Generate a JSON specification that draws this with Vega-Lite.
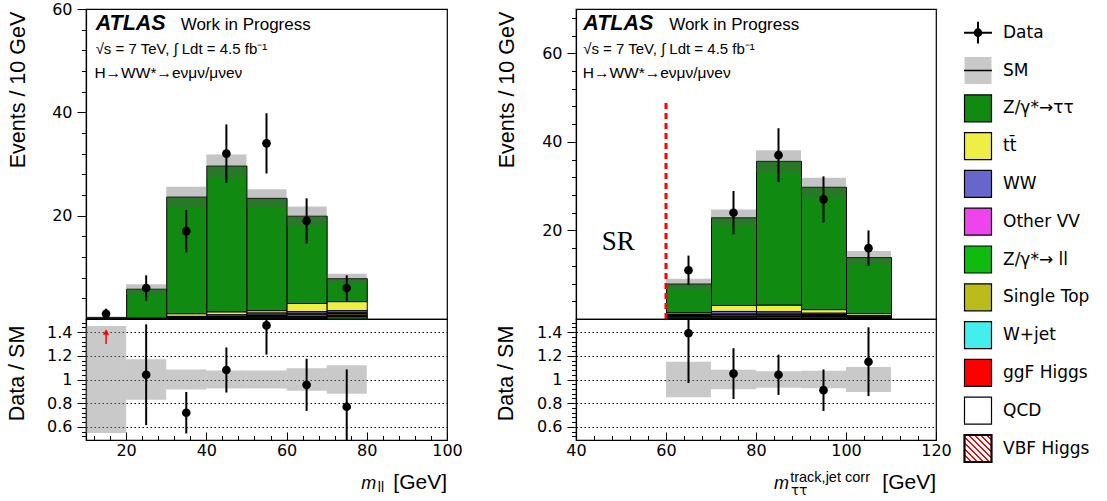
{
  "$schema": "https://vega.github.io/schema/vega-lite/v6.json",
  "background": "white",
  "padding": {"left": 5, "top": 0, "right": 0, "bottom": 0},
  "config": {
    "font": "DejaVu Sans",
    "view": {"stroke": "#000", "strokeWidth": 1.2},
    "axis": {"domainColor": "#000", "domainWidth": 1.2, "tickColor": "#000", "tickWidth": 1, "labelColor": "#000", "labelFont": "DejaVu Sans", "labelFontSize": 16, "labelFlush": false, "labelOverlap": false, "titleColor": "#000", "titleFont": "Liberation Sans", "titleFontSize": 21.5, "titleFontWeight": "normal", "grid": false}
  },
  "datasets": {
    "stack_mll": [
      {"lo": 10, "hi": 20, "proc": "Z/γ*→ττ", "n": 0.25, "k": 9},
      {"lo": 10, "hi": 20, "proc": "tt̄", "n": 0.05, "k": 8},
      {"lo": 20, "hi": 30, "proc": "Z/γ*→ττ", "n": 5.62, "k": 9},
      {"lo": 20, "hi": 30, "proc": "tt̄", "n": 0.08, "k": 8},
      {"lo": 20, "hi": 30, "proc": "WW", "n": 0.05, "k": 7},
      {"lo": 20, "hi": 30, "proc": "Z/γ*→ ll", "n": 0.02, "k": 0},
      {"lo": 30, "hi": 40, "proc": "Z/γ*→ττ", "n": 22.6, "k": 9},
      {"lo": 30, "hi": 40, "proc": "tt̄", "n": 0.5, "k": 8},
      {"lo": 30, "hi": 40, "proc": "WW", "n": 0.15, "k": 7},
      {"lo": 30, "hi": 40, "proc": "Other VV", "n": 0.05, "k": 6},
      {"lo": 30, "hi": 40, "proc": "Single Top", "n": 0.1, "k": 5},
      {"lo": 30, "hi": 40, "proc": "ggF Higgs", "n": 0.1, "k": 3},
      {"lo": 30, "hi": 40, "proc": "Z/γ*→ ll", "n": 0.1, "k": 0},
      {"lo": 40, "hi": 50, "proc": "Z/γ*→ττ", "n": 28.25, "k": 9},
      {"lo": 40, "hi": 50, "proc": "tt̄", "n": 0.55, "k": 8},
      {"lo": 40, "hi": 50, "proc": "WW", "n": 0.3, "k": 7},
      {"lo": 40, "hi": 50, "proc": "Other VV", "n": 0.1, "k": 6},
      {"lo": 40, "hi": 50, "proc": "Single Top", "n": 0.15, "k": 5},
      {"lo": 40, "hi": 50, "proc": "ggF Higgs", "n": 0.15, "k": 3},
      {"lo": 40, "hi": 50, "proc": "Z/γ*→ ll", "n": 0.1, "k": 0},
      {"lo": 50, "hi": 60, "proc": "Z/γ*→ττ", "n": 21.75, "k": 9},
      {"lo": 50, "hi": 60, "proc": "tt̄", "n": 0.45, "k": 8},
      {"lo": 50, "hi": 60, "proc": "WW", "n": 0.4, "k": 7},
      {"lo": 50, "hi": 60, "proc": "Other VV", "n": 0.15, "k": 6},
      {"lo": 50, "hi": 60, "proc": "Single Top", "n": 0.2, "k": 5},
      {"lo": 50, "hi": 60, "proc": "W+jet", "n": 0.05, "k": 4},
      {"lo": 50, "hi": 60, "proc": "ggF Higgs", "n": 0.2, "k": 3},
      {"lo": 50, "hi": 60, "proc": "Z/γ*→ ll", "n": 0.15, "k": 0},
      {"lo": 60, "hi": 70, "proc": "Z/γ*→ττ", "n": 16.9, "k": 9},
      {"lo": 60, "hi": 70, "proc": "tt̄", "n": 1.6, "k": 8},
      {"lo": 60, "hi": 70, "proc": "WW", "n": 0.4, "k": 7},
      {"lo": 60, "hi": 70, "proc": "Other VV", "n": 0.2, "k": 6},
      {"lo": 60, "hi": 70, "proc": "Single Top", "n": 0.3, "k": 5},
      {"lo": 60, "hi": 70, "proc": "W+jet", "n": 0.15, "k": 4},
      {"lo": 60, "hi": 70, "proc": "ggF Higgs", "n": 0.2, "k": 3},
      {"lo": 60, "hi": 70, "proc": "VBF Higgs", "n": 0.1, "k": 1},
      {"lo": 60, "hi": 70, "proc": "Z/γ*→ ll", "n": 0.05, "k": 0},
      {"lo": 70, "hi": 80, "proc": "Z/γ*→ττ", "n": 4.45, "k": 9},
      {"lo": 70, "hi": 80, "proc": "tt̄", "n": 1.75, "k": 8},
      {"lo": 70, "hi": 80, "proc": "WW", "n": 0.4, "k": 7},
      {"lo": 70, "hi": 80, "proc": "Other VV", "n": 0.15, "k": 6},
      {"lo": 70, "hi": 80, "proc": "Single Top", "n": 0.3, "k": 5},
      {"lo": 70, "hi": 80, "proc": "W+jet", "n": 0.15, "k": 4},
      {"lo": 70, "hi": 80, "proc": "ggF Higgs", "n": 0.15, "k": 3},
      {"lo": 70, "hi": 80, "proc": "VBF Higgs", "n": 0.05, "k": 1},
      {"lo": 70, "hi": 80, "proc": "Z/γ*→ ll", "n": 0.4, "k": 0}
    ],
    "stack_mtt": [
      {"lo": 60, "hi": 70, "proc": "Z/γ*→ττ", "n": 6.55, "k": 9},
      {"lo": 60, "hi": 70, "proc": "tt̄", "n": 0.35, "k": 8},
      {"lo": 60, "hi": 70, "proc": "WW", "n": 0.2, "k": 7},
      {"lo": 60, "hi": 70, "proc": "Other VV", "n": 0.1, "k": 6},
      {"lo": 60, "hi": 70, "proc": "Single Top", "n": 0.15, "k": 5},
      {"lo": 60, "hi": 70, "proc": "W+jet", "n": 0.1, "k": 4},
      {"lo": 60, "hi": 70, "proc": "ggF Higgs", "n": 0.3, "k": 3},
      {"lo": 60, "hi": 70, "proc": "Z/γ*→ ll", "n": 0.15, "k": 0},
      {"lo": 70, "hi": 80, "proc": "Z/γ*→ττ", "n": 19.8, "k": 9},
      {"lo": 70, "hi": 80, "proc": "tt̄", "n": 1.35, "k": 8},
      {"lo": 70, "hi": 80, "proc": "WW", "n": 0.6, "k": 7},
      {"lo": 70, "hi": 80, "proc": "Other VV", "n": 0.2, "k": 6},
      {"lo": 70, "hi": 80, "proc": "Single Top", "n": 0.3, "k": 5},
      {"lo": 70, "hi": 80, "proc": "W+jet", "n": 0.15, "k": 4},
      {"lo": 70, "hi": 80, "proc": "ggF Higgs", "n": 0.3, "k": 3},
      {"lo": 70, "hi": 80, "proc": "Z/γ*→ ll", "n": 0.15, "k": 0},
      {"lo": 80, "hi": 90, "proc": "Z/γ*→ττ", "n": 32.5, "k": 9},
      {"lo": 80, "hi": 90, "proc": "tt̄", "n": 1.5, "k": 8},
      {"lo": 80, "hi": 90, "proc": "WW", "n": 0.5, "k": 7},
      {"lo": 80, "hi": 90, "proc": "Other VV", "n": 0.2, "k": 6},
      {"lo": 80, "hi": 90, "proc": "Single Top", "n": 0.25, "k": 5},
      {"lo": 80, "hi": 90, "proc": "W+jet", "n": 0.1, "k": 4},
      {"lo": 80, "hi": 90, "proc": "ggF Higgs", "n": 0.4, "k": 3},
      {"lo": 80, "hi": 90, "proc": "Z/γ*→ ll", "n": 0.15, "k": 0},
      {"lo": 90, "hi": 100, "proc": "Z/γ*→ττ", "n": 27.65, "k": 9},
      {"lo": 90, "hi": 100, "proc": "tt̄", "n": 0.8, "k": 8},
      {"lo": 90, "hi": 100, "proc": "WW", "n": 0.3, "k": 7},
      {"lo": 90, "hi": 100, "proc": "Other VV", "n": 0.2, "k": 6},
      {"lo": 90, "hi": 100, "proc": "Single Top", "n": 0.25, "k": 5},
      {"lo": 90, "hi": 100, "proc": "W+jet", "n": 0.1, "k": 4},
      {"lo": 90, "hi": 100, "proc": "ggF Higgs", "n": 0.35, "k": 3},
      {"lo": 90, "hi": 100, "proc": "Z/γ*→ ll", "n": 0.1, "k": 0},
      {"lo": 100, "hi": 110, "proc": "Z/γ*→ττ", "n": 12.67, "k": 9},
      {"lo": 100, "hi": 110, "proc": "tt̄", "n": 0.45, "k": 8},
      {"lo": 100, "hi": 110, "proc": "WW", "n": 0.15, "k": 7},
      {"lo": 100, "hi": 110, "proc": "Other VV", "n": 0.1, "k": 6},
      {"lo": 100, "hi": 110, "proc": "Single Top", "n": 0.15, "k": 5},
      {"lo": 100, "hi": 110, "proc": "W+jet", "n": 0.05, "k": 4},
      {"lo": 100, "hi": 110, "proc": "ggF Higgs", "n": 0.2, "k": 3},
      {"lo": 100, "hi": 110, "proc": "Z/γ*→ ll", "n": 0.1, "k": 0}
    ],
    "sm_mll": [
      {"lo": 10, "hi": 20, "sm": 0.3, "blo": 0.165, "bhi": 0.435, "rlo": 0.55, "rhi": 1.45},
      {"lo": 20, "hi": 30, "sm": 5.77, "blo": 4.79, "bhi": 6.75, "rlo": 0.83, "rhi": 1.17},
      {"lo": 30, "hi": 40, "sm": 23.6, "blo": 21.59, "bhi": 25.61, "rlo": 0.915, "rhi": 1.085},
      {"lo": 40, "hi": 50, "sm": 29.6, "blo": 27.38, "bhi": 31.82, "rlo": 0.925, "rhi": 1.075},
      {"lo": 50, "hi": 60, "sm": 23.35, "blo": 21.6, "bhi": 25.1, "rlo": 0.925, "rhi": 1.075},
      {"lo": 60, "hi": 70, "sm": 19.9, "blo": 18.01, "bhi": 21.79, "rlo": 0.905, "rhi": 1.095},
      {"lo": 70, "hi": 80, "sm": 7.8, "blo": 6.86, "bhi": 8.74, "rlo": 0.88, "rhi": 1.12}
    ],
    "sm_mtt": [
      {"lo": 60, "hi": 70, "sm": 7.9, "blo": 6.72, "bhi": 9.09, "rlo": 0.85, "rhi": 1.15},
      {"lo": 70, "hi": 80, "sm": 22.85, "blo": 20.98, "bhi": 24.72, "rlo": 0.918, "rhi": 1.082},
      {"lo": 80, "hi": 90, "sm": 35.6, "blo": 33.1, "bhi": 38.1, "rlo": 0.93, "rhi": 1.07},
      {"lo": 90, "hi": 100, "sm": 29.75, "blo": 27.58, "bhi": 31.92, "rlo": 0.927, "rhi": 1.073},
      {"lo": 100, "hi": 110, "sm": 13.87, "blo": 12.41, "bhi": 15.33, "rlo": 0.895, "rhi": 1.105}
    ],
    "data_mll": [
      {"x": 15, "n": 1, "nlo": 0, "nhi": 2},
      {"x": 25, "n": 6, "nlo": 3.55, "nhi": 8.45, "r": 1.04, "rlo": 0.615, "rhi": 1.465},
      {"x": 35, "n": 17, "nlo": 12.88, "nhi": 21.12, "r": 0.72, "rlo": 0.545, "rhi": 0.895},
      {"x": 45, "n": 32, "nlo": 26.34, "nhi": 37.66, "r": 1.08, "rlo": 0.89, "rhi": 1.27},
      {"x": 55, "n": 34, "nlo": 28.17, "nhi": 39.83, "r": 1.456, "rlo": 1.21, "rhi": 1.71},
      {"x": 65, "n": 19, "nlo": 14.64, "nhi": 23.36, "r": 0.955, "rlo": 0.735, "rhi": 1.175},
      {"x": 75, "n": 6, "nlo": 3.55, "nhi": 8.45, "r": 0.77, "rlo": 0.455, "rhi": 1.085}
    ],
    "data_mtt": [
      {"x": 65, "n": 11, "nlo": 7.68, "nhi": 14.32, "r": 1.39, "rlo": 0.97, "rhi": 1.81},
      {"x": 75, "n": 24, "nlo": 19.1, "nhi": 28.9, "r": 1.05, "rlo": 0.836, "rhi": 1.264},
      {"x": 85, "n": 37, "nlo": 30.92, "nhi": 43.08, "r": 1.04, "rlo": 0.87, "rhi": 1.21},
      {"x": 95, "n": 27, "nlo": 21.8, "nhi": 32.2, "r": 0.91, "rlo": 0.735, "rhi": 1.085},
      {"x": 105, "n": 16, "nlo": 12, "nhi": 20, "r": 1.15, "rlo": 0.86, "rhi": 1.44}
    ],
    "leg": [
      {"i": 0, "label": "Data"}, {"i": 1, "label": "SM"}, {"i": 2, "label": "Z/γ*→ττ"}, {"i": 3, "label": "tt̄"},
      {"i": 4, "label": "WW"}, {"i": 5, "label": "Other VV"}, {"i": 6, "label": "Z/γ*→ ll"}, {"i": 7, "label": "Single Top"},
      {"i": 8, "label": "W+jet"}, {"i": 9, "label": "ggF Higgs"}, {"i": 10, "label": "QCD"}, {"i": 11, "label": "VBF Higgs"}
    ]
  },
  "concat": [
    {
      "width": 361, "height": 310,
      "resolve": {"axis": {"y": "independent"}},
      "layer": [
        {
          "data": {"name": "stack_mll"},
          "mark": {"type": "bar", "binSpacing": 0, "stroke": "#000", "strokeWidth": 1},
          "encoding": {
            "x": {"field": "lo", "type": "quantitative", "bin": {"binned": true}, "scale": {"domain": [10, 100], "nice": false}, "axis": null},
            "x2": {"field": "hi"},
            "y": {"field": "n", "type": "quantitative", "stack": "zero", "scale": {"domain": [0, 60], "nice": false}, "axis": {"orient": "left", "values": [20, 40, 60], "title": "Events / 10 GeV", "tickSize": 9, "labelPadding": 5, "titleX": -68, "titleY": 80.5, "titleAlign": "center", "titleBaseline": "middle"}},
            "color": {"field": "proc", "type": "nominal", "legend": null, "scale": {"domain": ["Z/γ*→ττ", "tt̄", "WW", "Other VV", "Z/γ*→ ll", "Single Top", "W+jet", "ggF Higgs", "QCD", "VBF Higgs"], "range": ["#108a10", "#eeee47", "#6666cc", "#ee44ee", "#10bb10", "#bbbb1c", "#44eeee", "#ff0000", "#ffffff", "#ff6666"]}},
            "order": {"field": "k", "type": "quantitative"}
          }
        },
        {
          "data": {"name": "sm_mll"},
          "mark": {"type": "rect", "fill": "#555", "opacity": 0.35},
          "encoding": {"x": {"field": "lo", "type": "quantitative", "axis": null}, "x2": {"field": "hi"}, "y": {"field": "blo", "type": "quantitative", "axis": {"orient": "left", "values": [4, 8, 12, 16, 24, 28, 32, 36, 44, 48, 52, 56], "tickCount": 40, "labels": false, "domain": false, "tickSize": 4.5, "title": null, "grid": false}}, "y2": {"field": "bhi"}}
        },
        {
          "data": {"name": "data_mll"},
          "mark": {"type": "rule", "strokeWidth": 2, "color": "#000"},
          "encoding": {"x": {"field": "x", "type": "quantitative", "axis": null}, "y": {"field": "nlo", "type": "quantitative", "axis": null}, "y2": {"field": "nhi"}}
        },
        {
          "data": {"name": "data_mll"},
          "mark": {"type": "point", "filled": true, "shape": "circle", "size": 75, "color": "#000", "opacity": 1},
          "encoding": {"x": {"field": "x", "type": "quantitative", "axis": null}, "y": {"field": "n", "type": "quantitative", "axis": null}}
        },
        {
          "data": {"values": [{}]},
          "mark": {"type": "text", "text": "ATLAS", "font": "Liberation Sans", "fontSize": 21.5, "fontWeight": "bold", "fontStyle": "italic", "align": "left", "baseline": "alphabetic", "color": "#000"},
          "encoding": {"x": {"datum": 12.4, "type": "quantitative", "axis": null}, "y": {"datum": 56, "type": "quantitative", "axis": null}}
        },
        {
          "data": {"values": [{}]},
          "mark": {"type": "text", "text": "Work in Progress", "font": "Liberation Sans", "fontSize": 17, "align": "left", "baseline": "alphabetic", "color": "#000"},
          "encoding": {"x": {"datum": 33.6, "type": "quantitative", "axis": null}, "y": {"datum": 56, "type": "quantitative", "axis": null}}
        },
        {
          "data": {"values": [{}]},
          "mark": {"type": "text", "text": "√s = 7 TeV, ∫ Ldt = 4.5 fb⁻¹", "font": "Liberation Sans", "fontSize": 15, "align": "left", "baseline": "alphabetic", "color": "#000"},
          "encoding": {"x": {"datum": 12.4, "type": "quantitative", "axis": null}, "y": {"datum": 51.35, "type": "quantitative", "axis": null}}
        },
        {
          "data": {"values": [{}]},
          "mark": {"type": "text", "text": "H→WW*→eνμν/μνeν", "font": "Liberation Sans", "fontSize": 15.5, "align": "left", "baseline": "alphabetic", "color": "#000"},
          "encoding": {"x": {"datum": 12.1, "type": "quantitative", "axis": null}, "y": {"datum": 46.6, "type": "quantitative", "axis": null}}
        }
      ]
    },
    {
      "width": 360, "height": 310,
      "resolve": {"axis": {"y": "independent"}},
      "layer": [
        {
          "data": {"name": "stack_mtt"},
          "mark": {"type": "bar", "binSpacing": 0, "stroke": "#000", "strokeWidth": 1},
          "encoding": {
            "x": {"field": "lo", "type": "quantitative", "bin": {"binned": true}, "scale": {"domain": [40, 120], "nice": false}, "axis": null},
            "x2": {"field": "hi"},
            "y": {"field": "n", "type": "quantitative", "stack": "zero", "scale": {"domain": [0, 70], "nice": false}, "axis": {"orient": "left", "values": [20, 40, 60], "title": "Events / 10 GeV", "tickSize": 9, "labelPadding": 5, "titleX": -69, "titleY": 80.5, "titleAlign": "center", "titleBaseline": "middle"}},
            "color": {"field": "proc", "type": "nominal", "legend": null, "scale": {"domain": ["Z/γ*→ττ", "tt̄", "WW", "Other VV", "Z/γ*→ ll", "Single Top", "W+jet", "ggF Higgs", "QCD", "VBF Higgs"], "range": ["#108a10", "#eeee47", "#6666cc", "#ee44ee", "#10bb10", "#bbbb1c", "#44eeee", "#ff0000", "#ffffff", "#ff6666"]}},
            "order": {"field": "k", "type": "quantitative"}
          }
        },
        {
          "data": {"name": "sm_mtt"},
          "mark": {"type": "rect", "fill": "#555", "opacity": 0.35},
          "encoding": {"x": {"field": "lo", "type": "quantitative", "axis": null}, "x2": {"field": "hi"}, "y": {"field": "blo", "type": "quantitative", "axis": {"orient": "left", "values": [4, 8, 12, 16, 24, 28, 32, 36, 44, 48, 52, 56, 64, 68], "tickCount": 40, "labels": false, "domain": false, "tickSize": 4.5, "title": null, "grid": false}}, "y2": {"field": "bhi"}}
        },
        {
          "data": {"values": [{}]},
          "mark": {"type": "rule", "color": "#ff0000", "strokeWidth": 3, "strokeDash": [6, 4]},
          "encoding": {"x": {"datum": 60, "type": "quantitative", "axis": null}, "y": {"datum": 0, "type": "quantitative", "axis": null}, "y2": {"datum": 49}}
        },
        {
          "data": {"name": "data_mtt"},
          "mark": {"type": "rule", "strokeWidth": 2, "color": "#000"},
          "encoding": {"x": {"field": "x", "type": "quantitative", "axis": null}, "y": {"field": "nlo", "type": "quantitative", "axis": null}, "y2": {"field": "nhi"}}
        },
        {
          "data": {"name": "data_mtt"},
          "mark": {"type": "point", "filled": true, "shape": "circle", "size": 75, "color": "#000", "opacity": 1},
          "encoding": {"x": {"field": "x", "type": "quantitative", "axis": null}, "y": {"field": "n", "type": "quantitative", "axis": null}}
        },
        {
          "data": {"values": [{}]},
          "mark": {"type": "text", "text": "ATLAS", "font": "Liberation Sans", "fontSize": 21.5, "fontWeight": "bold", "fontStyle": "italic", "align": "left", "baseline": "alphabetic", "color": "#000"},
          "encoding": {"x": {"datum": 41.6, "type": "quantitative", "axis": null}, "y": {"datum": 65.3, "type": "quantitative", "axis": null}}
        },
        {
          "data": {"values": [{}]},
          "mark": {"type": "text", "text": "Work in Progress", "font": "Liberation Sans", "fontSize": 17, "align": "left", "baseline": "alphabetic", "color": "#000"},
          "encoding": {"x": {"datum": 60.7, "type": "quantitative", "axis": null}, "y": {"datum": 65.3, "type": "quantitative", "axis": null}}
        },
        {
          "data": {"values": [{}]},
          "mark": {"type": "text", "text": "√s = 7 TeV, ∫ Ldt = 4.5 fb⁻¹", "font": "Liberation Sans", "fontSize": 15, "align": "left", "baseline": "alphabetic", "color": "#000"},
          "encoding": {"x": {"datum": 41.6, "type": "quantitative", "axis": null}, "y": {"datum": 59.9, "type": "quantitative", "axis": null}}
        },
        {
          "data": {"values": [{}]},
          "mark": {"type": "text", "text": "H→WW*→eνμν/μνeν", "font": "Liberation Sans", "fontSize": 15.5, "align": "left", "baseline": "alphabetic", "color": "#000"},
          "encoding": {"x": {"datum": 41.5, "type": "quantitative", "axis": null}, "y": {"datum": 54.4, "type": "quantitative", "axis": null}}
        },
        {
          "data": {"values": [{}]},
          "mark": {"type": "text", "text": "SR", "font": "Liberation Serif", "fontSize": 27, "align": "left", "baseline": "alphabetic", "color": "#000"},
          "encoding": {"x": {"datum": 45.7, "type": "quantitative", "axis": null}, "y": {"datum": 15.5, "type": "quantitative", "axis": null}}
        }
      ]
    },
    {
      "width": 30, "height": 310,
      "view": {"stroke": null},
      "data": {"name": "leg"},
      "layer": [
        {
          "transform": [{"filter": {"field": "label", "oneOf": ["Z/γ*→ττ", "tt̄", "WW", "Other VV", "Z/γ*→ ll", "Single Top", "W+jet", "ggF Higgs", "QCD"]}}],
          "mark": {"type": "point", "shape": "square", "size": 729, "filled": true, "stroke": "#000", "strokeWidth": 1.2, "opacity": 1},
          "encoding": {
            "x": {"datum": -87, "type": "quantitative", "scale": {"domain": [0, 30], "nice": false, "zero": false}, "axis": null},
            "y": {"field": "i", "type": "quantitative", "scale": {"domain": [-0.627, 7.574], "reverse": true, "nice": false, "zero": false}, "axis": null},
            "fill": {"field": "label", "type": "nominal", "legend": null, "scale": {"domain": ["Z/γ*→ττ", "tt̄", "WW", "Other VV", "Z/γ*→ ll", "Single Top", "W+jet", "ggF Higgs", "QCD", "VBF Higgs"], "range": ["#108a10", "#eeee47", "#6666cc", "#ee44ee", "#10bb10", "#bbbb1c", "#44eeee", "#ff0000", "#ffffff", "#ff6666"]}}
          }
        },
        {
          "transform": [{"filter": "datum.label == 'VBF Higgs'"}],
          "mark": {"type": "point", "shape": "square", "size": 729, "stroke": "#000", "strokeWidth": 2.2, "opacity": 1, "fill": {"gradient": "linear", "x1": 0, "y1": 1, "x2": 1, "y2": 0, "stops": [
            {"offset": 0, "color": "#ff0000"}, {"offset": 0.045, "color": "#ff0000"}, {"offset": 0.045, "color": "#ffffff"}, {"offset": 0.111, "color": "#ffffff"},
            {"offset": 0.111, "color": "#ff0000"}, {"offset": 0.156, "color": "#ff0000"}, {"offset": 0.156, "color": "#ffffff"}, {"offset": 0.222, "color": "#ffffff"},
            {"offset": 0.222, "color": "#ff0000"}, {"offset": 0.267, "color": "#ff0000"}, {"offset": 0.267, "color": "#ffffff"}, {"offset": 0.333, "color": "#ffffff"},
            {"offset": 0.333, "color": "#ff0000"}, {"offset": 0.378, "color": "#ff0000"}, {"offset": 0.378, "color": "#ffffff"}, {"offset": 0.444, "color": "#ffffff"},
            {"offset": 0.444, "color": "#ff0000"}, {"offset": 0.489, "color": "#ff0000"}, {"offset": 0.489, "color": "#ffffff"}, {"offset": 0.556, "color": "#ffffff"},
            {"offset": 0.556, "color": "#ff0000"}, {"offset": 0.601, "color": "#ff0000"}, {"offset": 0.601, "color": "#ffffff"}, {"offset": 0.667, "color": "#ffffff"},
            {"offset": 0.667, "color": "#ff0000"}, {"offset": 0.712, "color": "#ff0000"}, {"offset": 0.712, "color": "#ffffff"}, {"offset": 0.778, "color": "#ffffff"},
            {"offset": 0.778, "color": "#ff0000"}, {"offset": 0.823, "color": "#ff0000"}, {"offset": 0.823, "color": "#ffffff"}, {"offset": 0.889, "color": "#ffffff"},
            {"offset": 0.889, "color": "#ff0000"}, {"offset": 0.934, "color": "#ff0000"}, {"offset": 0.934, "color": "#ffffff"}, {"offset": 1, "color": "#ffffff"}
          ]}},
          "encoding": {"x": {"datum": -87, "type": "quantitative"}, "y": {"field": "i", "type": "quantitative"}}
        },
        {
          "transform": [{"filter": "datum.label == 'SM'"}],
          "mark": {"type": "point", "shape": "square", "size": 729, "filled": true, "color": "#888", "opacity": 0.45},
          "encoding": {"x": {"datum": -87, "type": "quantitative"}, "y": {"field": "i", "type": "quantitative"}}
        },
        {
          "transform": [{"filter": "datum.label == 'SM'"}],
          "mark": {"type": "rule", "color": "#000", "strokeWidth": 1.5},
          "encoding": {"x": {"datum": -101, "type": "quantitative"}, "x2": {"datum": -73}, "y": {"field": "i", "type": "quantitative"}}
        },
        {
          "transform": [{"filter": "datum.label == 'Data'"}],
          "mark": {"type": "point", "shape": "M-1,0L1,0M0,-0.78L0,0.78", "filled": false, "size": 784, "stroke": "#000", "strokeWidth": 2, "opacity": 1},
          "encoding": {"x": {"datum": -87, "type": "quantitative"}, "y": {"field": "i", "type": "quantitative"}}
        },
        {
          "transform": [{"filter": "datum.label == 'Data'"}],
          "mark": {"type": "point", "shape": "circle", "filled": true, "size": 75, "color": "#000", "opacity": 1},
          "encoding": {"x": {"datum": -87, "type": "quantitative"}, "y": {"field": "i", "type": "quantitative"}}
        },
        {
          "mark": {"type": "text", "font": "DejaVu Sans", "fontSize": 17, "align": "left", "baseline": "middle", "color": "#000"},
          "encoding": {"x": {"datum": -62, "type": "quantitative"}, "y": {"field": "i", "type": "quantitative"}, "text": {"field": "label"}}
        }
      ]
    },
    {
      "width": 361, "height": 121,
      "resolve": {"axis": {"x": "independent", "y": "independent"}},
      "layer": [
        {
          "data": {"name": "sm_mll"},
          "mark": {"type": "rect", "fill": "#888", "opacity": 0.45},
          "encoding": {
            "x": {"field": "lo", "type": "quantitative", "scale": {"domain": [10, 100], "nice": false}, "axis": {"orient": "bottom", "values": [20, 40, 60, 80, 100], "title": null, "tickSize": -8, "labelPadding": 10}},
            "x2": {"field": "hi"},
            "y": {"field": "rlo", "type": "quantitative", "scale": {"domain": [0.49, 1.51], "nice": false, "zero": false}, "axis": {"orient": "left", "values": [0.6, 0.8, 1, 1.2, 1.4], "tickCount": 10, "format": ".1~f", "title": "Data / SM", "tickSize": 9, "labelPadding": 5, "grid": true, "gridDash": [1.5, 2.5], "gridColor": "#000", "gridWidth": 1, "titleX": -68.5, "titleY": 54, "titleAlign": "center", "titleBaseline": "middle"}},
            "y2": {"field": "rhi"}
          }
        },
        {
          "mark": {"type": "rule", "color": "#ff0000", "strokeWidth": 1},
          "encoding": {"y": {"datum": 1, "type": "quantitative", "axis": {"orient": "left", "values": [0.52, 0.56, 0.64, 0.68, 0.72, 0.76, 0.84, 0.88, 0.92, 0.96, 1.04, 1.08, 1.12, 1.16, 1.24, 1.28, 1.32, 1.36, 1.44, 1.48], "tickCount": 40, "labels": false, "domain": false, "tickSize": 4.5, "title": null, "grid": false}}}
        },
        {
          "data": {"name": "data_mll"},
          "transform": [{"filter": "isValid(datum.r)"}],
          "mark": {"type": "rule", "strokeWidth": 2, "color": "#000", "clip": true},
          "encoding": {"x": {"field": "x", "type": "quantitative", "axis": {"orient": "bottom", "values": [12, 16, 24, 28, 32, 36, 44, 48, 52, 56, 64, 68, 72, 76, 84, 88, 92, 96], "tickCount": 40, "labels": false, "domain": false, "tickSize": -4.5, "title": null, "grid": false}}, "y": {"field": "rlo", "type": "quantitative", "axis": null}, "y2": {"field": "rhi"}}
        },
        {
          "data": {"name": "data_mll"},
          "transform": [{"filter": "isValid(datum.r)"}],
          "mark": {"type": "point", "filled": true, "shape": "circle", "size": 75, "color": "#000", "opacity": 1},
          "encoding": {"x": {"field": "x", "type": "quantitative", "axis": null}, "y": {"field": "r", "type": "quantitative", "axis": null}}
        },
        {
          "data": {"values": [{}]},
          "mark": {"type": "rule", "color": "#ff0000", "strokeWidth": 1.5},
          "encoding": {"x": {"datum": 15, "type": "quantitative", "axis": null}, "y": {"datum": 1.3, "type": "quantitative", "axis": null}, "y2": {"datum": 1.4}}
        },
        {
          "data": {"values": [{}]},
          "mark": {"type": "point", "shape": "triangle-up", "filled": true, "size": 40, "color": "#ff0000", "opacity": 1},
          "encoding": {"x": {"datum": 15, "type": "quantitative", "axis": null}, "y": {"datum": 1.4, "type": "quantitative", "axis": null}}
        },
        {
          "data": {"values": [{}]},
          "mark": {"type": "text", "text": "m", "font": "Liberation Sans", "fontSize": 18, "fontStyle": "italic", "align": "left", "baseline": "alphabetic", "color": "#000"},
          "encoding": {"x": {"datum": 78.6, "type": "quantitative", "axis": null}, "y": {"datum": 0.081, "type": "quantitative", "axis": null}}
        },
        {
          "data": {"values": [{}]},
          "mark": {"type": "text", "text": "ll", "font": "Liberation Sans", "fontSize": 14, "align": "left", "baseline": "alphabetic", "color": "#000"},
          "encoding": {"x": {"datum": 82.75, "type": "quantitative", "axis": null}, "y": {"datum": 0.052, "type": "quantitative", "axis": null}}
        },
        {
          "data": {"values": [{}]},
          "mark": {"type": "text", "text": "[GeV]", "font": "Liberation Sans", "fontSize": 21, "align": "right", "baseline": "alphabetic", "color": "#000"},
          "encoding": {"x": {"datum": 100, "type": "quantitative", "axis": null}, "y": {"datum": 0.081, "type": "quantitative", "axis": null}}
        }
      ]
    },
    {
      "width": 360, "height": 121,
      "resolve": {"axis": {"x": "independent", "y": "independent"}},
      "layer": [
        {
          "data": {"name": "sm_mtt"},
          "mark": {"type": "rect", "fill": "#888", "opacity": 0.45},
          "encoding": {
            "x": {"field": "lo", "type": "quantitative", "scale": {"domain": [40, 120], "nice": false}, "axis": {"orient": "bottom", "values": [40, 60, 80, 100, 120], "title": null, "tickSize": -8, "labelPadding": 10}},
            "x2": {"field": "hi"},
            "y": {"field": "rlo", "type": "quantitative", "scale": {"domain": [0.49, 1.51], "nice": false, "zero": false}, "axis": {"orient": "left", "values": [0.6, 0.8, 1, 1.2, 1.4], "tickCount": 10, "format": ".1~f", "title": "Data / SM", "tickSize": 9, "labelPadding": 5, "grid": true, "gridDash": [1.5, 2.5], "gridColor": "#000", "gridWidth": 1, "titleX": -69.5, "titleY": 54, "titleAlign": "center", "titleBaseline": "middle"}},
            "y2": {"field": "rhi"}
          }
        },
        {
          "mark": {"type": "rule", "color": "#ff0000", "strokeWidth": 1},
          "encoding": {"y": {"datum": 1, "type": "quantitative", "axis": {"orient": "left", "values": [0.52, 0.56, 0.64, 0.68, 0.72, 0.76, 0.84, 0.88, 0.92, 0.96, 1.04, 1.08, 1.12, 1.16, 1.24, 1.28, 1.32, 1.36, 1.44, 1.48], "tickCount": 40, "labels": false, "domain": false, "tickSize": 4.5, "title": null, "grid": false}}}
        },
        {
          "data": {"name": "data_mtt"},
          "mark": {"type": "rule", "strokeWidth": 2, "color": "#000", "clip": true},
          "encoding": {"x": {"field": "x", "type": "quantitative", "axis": {"orient": "bottom", "values": [44, 48, 52, 56, 64, 68, 72, 76, 84, 88, 92, 96, 104, 108, 112, 116], "tickCount": 40, "labels": false, "domain": false, "tickSize": -4.5, "title": null, "grid": false}}, "y": {"field": "rlo", "type": "quantitative", "axis": null}, "y2": {"field": "rhi"}}
        },
        {
          "data": {"name": "data_mtt"},
          "mark": {"type": "point", "filled": true, "shape": "circle", "size": 75, "color": "#000", "opacity": 1},
          "encoding": {"x": {"field": "x", "type": "quantitative", "axis": null}, "y": {"field": "r", "type": "quantitative", "axis": null}}
        },
        {
          "data": {"values": [{}]},
          "mark": {"type": "text", "text": "m", "font": "Liberation Sans", "fontSize": 18, "fontStyle": "italic", "align": "left", "baseline": "alphabetic", "color": "#000"},
          "encoding": {"x": {"datum": 84.0, "type": "quantitative", "axis": null}, "y": {"datum": 0.081, "type": "quantitative", "axis": null}}
        },
        {
          "data": {"values": [{}]},
          "mark": {"type": "text", "text": "ττ", "font": "DejaVu Sans", "fontSize": 13.5, "align": "left", "baseline": "alphabetic", "color": "#000"},
          "encoding": {"x": {"datum": 87.8, "type": "quantitative", "axis": null}, "y": {"datum": 0.028, "type": "quantitative", "axis": null}}
        },
        {
          "data": {"values": [{}]},
          "mark": {"type": "text", "text": "track,jet corr", "font": "Liberation Sans", "fontSize": 14.5, "align": "left", "baseline": "alphabetic", "color": "#000"},
          "encoding": {"x": {"datum": 87.6, "type": "quantitative", "axis": null}, "y": {"datum": 0.14, "type": "quantitative", "axis": null}}
        },
        {
          "data": {"values": [{}]},
          "mark": {"type": "text", "text": "[GeV]", "font": "Liberation Sans", "fontSize": 21, "align": "right", "baseline": "alphabetic", "color": "#000"},
          "encoding": {"x": {"datum": 120, "type": "quantitative", "axis": null}, "y": {"datum": 0.081, "type": "quantitative", "axis": null}}
        }
      ]
    }
  ],
  "columns": 3,
  "spacing": {"row": 0, "column": 129},
  "align": "each",
  "bounds": "flush"
}
